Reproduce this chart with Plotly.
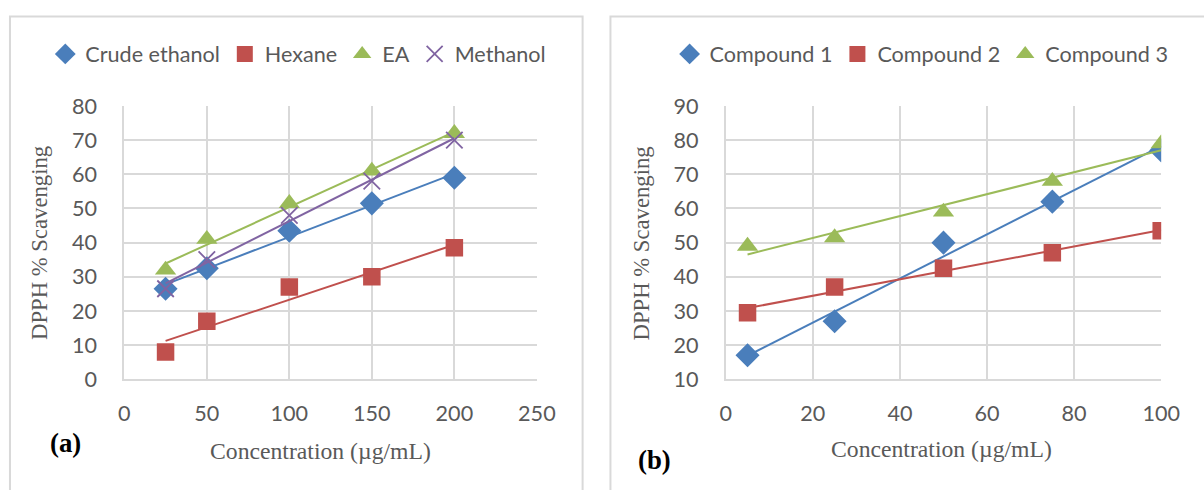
import numpy as np
import plotly.graph_objects as go

# Panel (a)
conc_a = [25, 50, 100, 150, 200]
crude_ethanol = [26.5, 32.5, 43.5, 51.5, 59]
hexane = [8, 17, 27, 30, 38.5]
ea = [32, 41, 51.5, 61, 72]
methanol = [26.5, 35, 48, 58, 70]

# Panel (b)
conc_b = [5, 25, 50, 75, 100]
compound1 = [17, 27, 50, 62, 77]
compound2 = [29.5, 37, 42.5, 47, 53.5]
compound3 = [49, 51.5, 59, 68, 79]

BLUE = "#4A7EBB"
RED = "#C0504D"
GREEN = "#9BBB59"
PURPLE = "#8064A2"
GRID = "#D9D9D9"
TXT = "#595959"
SANS = "Lato"
SERIF = "Liberation Serif"

W, H = 1204, 490
SX, OX, SY, OY = 0.985, 4.0, 0.953, 11.4
FS = 1.03  # font / marker scale

def px(x):
    return ((x - OX) / SX) / W

def py(y):
    return 1 - ((y - OY) / SY) / H

def f(s):
    return round(s * FS, 1)

TICKFONT = dict(family=SANS, size=f(21), color=TXT)

fig = go.Figure()

def add_series(x, y, name, color, symbol, size, xa, ya, legend, line_marker=None):
    c = np.polyfit(x, y, 1)
    xs = [min(x), max(x)]
    ys = [c[0] * v + c[1] for v in xs]
    fig.add_trace(go.Scatter(x=xs, y=ys, mode="lines", line=dict(color=color, width=2),
                             xaxis=xa, yaxis=ya, showlegend=False, hoverinfo="skip"))
    mk = dict(color=color, symbol=symbol, size=f(size))
    if line_marker:
        mk["line"] = dict(color=color, width=line_marker)
    fig.add_trace(go.Scatter(x=x, y=y, mode="markers", name=name, marker=mk,
                             xaxis=xa, yaxis=ya, legend=legend))

add_series(conc_a, crude_ethanol, "Crude ethanol", BLUE, "diamond", 18, "x", "y", "legend")
add_series(conc_a, hexane, "Hexane", RED, "square", 17, "x", "y", "legend")
add_series(conc_a, ea, "EA", GREEN, "triangle-up", 18, "x", "y", "legend")
add_series(conc_a, methanol, "Methanol", PURPLE, "x-thin-open", 16, "x", "y", "legend", line_marker=1.8)

add_series(conc_b, compound1, "Compound 1", BLUE, "diamond", 18, "x2", "y2", "legend2")
add_series(conc_b, compound2, "Compound 2", RED, "square", 17, "x2", "y2", "legend2")
add_series(conc_b, compound3, "Compound 3", GREEN, "triangle-up", 18, "x2", "y2", "legend2")

axis_common = dict(showgrid=True, gridcolor=GRID, gridwidth=2, zeroline=False,
                   showline=True, linecolor=GRID, linewidth=2, mirror=False,
                   tickfont=TICKFONT, ticks="", fixedrange=True)

y_dom = [py(380), py(105)]
legfont = dict(family=SANS, size=f(21), color=TXT)
fig.update_layout(
    width=W, height=H, autosize=False,
    margin=dict(l=0, r=0, t=0, b=0),
    paper_bgcolor="white", plot_bgcolor="white",
    xaxis=dict(domain=[px(123), px(538)], range=[0, 250], dtick=50, anchor="y",
               ticklabelstandoff=14, **axis_common),
    yaxis=dict(domain=y_dom, range=[0, 80], dtick=10, anchor="x", ticklabelstandoff=21, **axis_common),
    xaxis2=dict(domain=[px(728), px(1166)], range=[0, 100], dtick=20, anchor="y2",
                ticklabelstandoff=14, **axis_common),
    yaxis2=dict(domain=y_dom, range=[10, 90], dtick=10, anchor="x2", ticklabelstandoff=21, **axis_common),
    legend=dict(orientation="h", x=px(298), y=py(53), xanchor="center", yanchor="middle",
                font=legfont, itemwidth=30, bgcolor="rgba(0,0,0,0)"),
    legend2=dict(orientation="h", x=px(925), y=py(53), xanchor="center", yanchor="middle",
                 font=legfont, itemwidth=30, bgcolor="rgba(0,0,0,0)"),
    showlegend=True,
)

# Panel borders
fig.add_shape(type="rect", xref="paper", yref="paper", x0=px(8), x1=px(584),
              y0=-0.05, y1=py(15), line=dict(color=GRID, width=2), layer="below")
fig.add_shape(type="rect", xref="paper", yref="paper", x0=px(612), x1=1.05,
              y0=-0.05, y1=py(15), line=dict(color=GRID, width=2), layer="below")

ann = [
    dict(text="Concentration (µg/mL)", x=px(320), y=py(452), font=dict(family=SERIF, size=f(23), color=TXT)),
    dict(text="Concentration (µg/mL)", x=px(945), y=py(450), font=dict(family=SERIF, size=f(23), color=TXT)),
    dict(text="DPPH % Scavenging", x=px(37), y=py(243), textangle=-90, font=dict(family=SERIF, size=f(22), color=TXT)),
    dict(text="DPPH % Scavenging", x=px(643), y=py(243), textangle=-90, font=dict(family=SERIF, size=f(22), color=TXT)),
    dict(text="<b>(a)</b>", x=px(64), y=py(444), font=dict(family=SERIF, size=f(26), color="black")),
    dict(text="<b>(b)</b>", x=px(656), y=py(461), font=dict(family=SERIF, size=f(26), color="black")),
]
for a in ann:
    fig.add_annotation(xref="paper", yref="paper", showarrow=False, xanchor="center", yanchor="middle", **a)

post = (
    "document.documentElement.style.margin='0';"
    "document.body.style.margin='0';"
    "document.body.style.overflow='hidden';"
)
fig.write_html("out.html", post_script=post, config={"displayModeBar": False})
